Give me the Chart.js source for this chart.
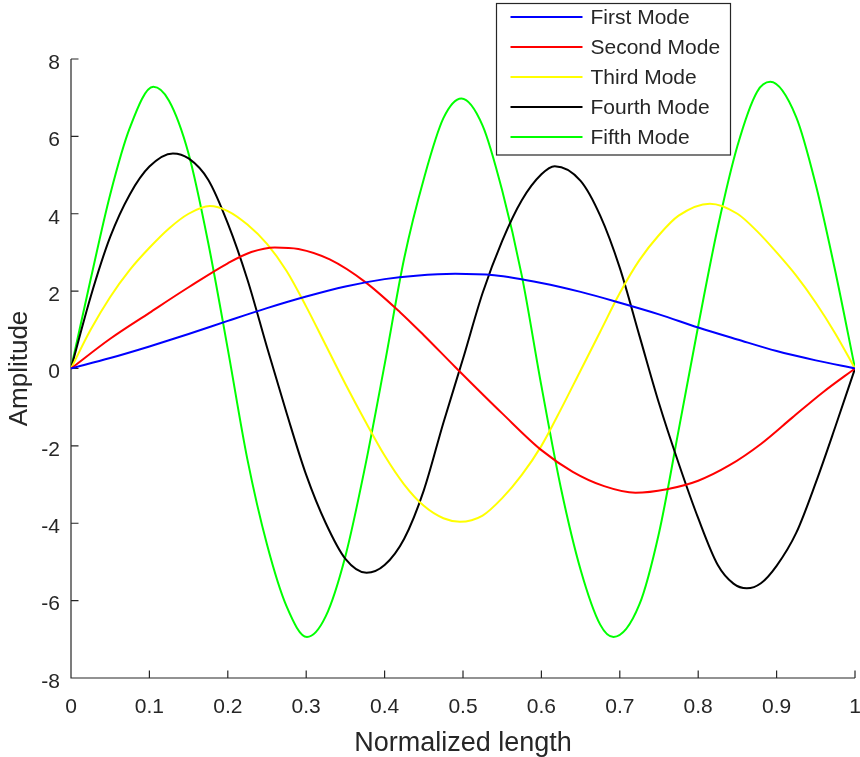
<!DOCTYPE html>
<html lang="en">
<head>
    <meta charset="UTF-8">
    <title>Mode shapes</title>
    <script src="https://cdn.jsdelivr.net/npm/chart.js"></script>
    <style>
        body { margin: 0; background-color: #ffffff; }
        #wrap { width: 860px; height: 757px; }
    </style>
</head>
<body>
    <div id="wrap">
        <canvas id="grafico" width="860" height="757"></canvas>
    </div>

    <script>
        const modeNames = ['First Mode', 'Second Mode', 'Third Mode', 'Fourth Mode', 'Fifth Mode'];
        const modeColors = ['#0000ff', '#ff0000', '#ffff00', '#000000', '#00ff00'];

        const xFirst = [0, 0.05, 0.1, 0.15, 0.2, 0.25, 0.3, 0.35, 0.4, 0.44, 0.49,
                        0.54, 0.6, 0.65, 0.7, 0.75, 0.8, 0.85, 0.9, 0.95, 1];
        const firstMode = [0, 0.27, 0.57, 0.89, 1.23, 1.56, 1.86, 2.12, 2.31, 2.40, 2.45,
                           2.41, 2.21, 1.98, 1.70, 1.40, 1.06, 0.75, 0.45, 0.21, 0];

        const xSecond = [0, 0.05, 0.1, 0.15, 0.2, 0.23, 0.26, 0.29, 0.33, 0.375, 0.42, 0.45,
                         0.49, 0.55, 0.6, 0.64, 0.68, 0.72, 0.76, 0.8, 0.84, 0.88, 0.92, 0.96, 1];
        const secondMode = [0, 0.77, 1.44, 2.10, 2.72, 3.01, 3.13, 3.09, 2.82, 2.24, 1.45, 0.86,
                            0.04, -1.16, -2.11, -2.67, -3.04, -3.21, -3.12, -2.90, -2.50, -1.95, -1.27, -0.60, 0];

        const xThird = [0, 0.025, 0.05, 0.075, 0.1, 0.125, 0.15, 0.177, 0.2, 0.225,
                        0.25, 0.275, 0.3, 0.325, 0.35, 0.375, 0.4, 0.425, 0.45, 0.475,
                        0.496, 0.525, 0.55, 0.575, 0.6, 0.625, 0.65, 0.675, 0.7, 0.725,
                        0.75, 0.775, 0.815, 0.85, 0.875, 0.9, 0.925, 0.95, 0.975, 1];
        const thirdMode = [0, 1.00, 1.85, 2.55, 3.12, 3.62, 4.00, 4.20, 4.07, 3.72,
                           3.22, 2.52, 1.60, 0.60, -0.40, -1.35, -2.25, -3.00, -3.55, -3.87,
                           -3.96, -3.80, -3.35, -2.75, -2.00, -1.05, -0.05, 0.95, 1.95, 2.80,
                           3.45, 3.95, 4.26, 4.00, 3.55, 3.00, 2.40, 1.70, 0.90, 0];

        const xFourth = [0, 0.025, 0.05, 0.075, 0.1, 0.13, 0.15, 0.175, 0.2, 0.225,
                         0.25, 0.275, 0.3, 0.325, 0.35, 0.377, 0.4, 0.425, 0.45, 0.475,
                         0.5, 0.525, 0.55, 0.575, 0.6, 0.617, 0.65, 0.675, 0.7, 0.725,
                         0.75, 0.775, 0.8, 0.825, 0.845, 0.862, 0.88, 0.9, 0.925, 0.95, 0.975, 1];
        const fourthMode = [0, 1.85, 3.40, 4.50, 5.22, 5.56, 5.43, 4.88, 3.75, 2.30,
                            0.55, -1.15, -2.75, -4.00, -4.92, -5.28, -5.08, -4.40, -3.15, -1.40,
                            0.25, 1.95, 3.30, 4.35, 5.02, 5.23, 4.85, 3.95, 2.60, 0.85,
                            -0.90, -2.45, -3.87, -5.08, -5.56, -5.68, -5.55, -5.10, -4.25, -2.95, -1.50, 0];

        const xFifth = [0, 0.025, 0.05, 0.075, 0.105, 0.125, 0.15, 0.175, 0.2, 0.225,
                        0.25, 0.275, 0.301, 0.325, 0.35, 0.375, 0.4, 0.425, 0.45, 0.475,
                        0.498, 0.525, 0.55, 0.575, 0.6, 0.625, 0.65, 0.675, 0.692, 0.725,
                        0.75, 0.775, 0.8, 0.825, 0.85, 0.875, 0.892, 0.925, 0.95, 0.975, 1];
        const fifthMode = [0, 2.30, 4.50, 6.22, 7.28, 6.92, 5.55, 3.25, 0.50, -2.35,
                           -4.55, -6.15, -6.94, -6.40, -4.85, -2.55, 0.10, 2.85, 4.90, 6.47,
                           6.98, 6.28, 4.60, 2.40, -0.45, -3.10, -5.20, -6.62, -6.94, -6.10,
                           -4.25, -1.60, 1.10, 3.65, 5.75, 7.15, 7.41, 6.50, 4.75, 2.50, 0];

        const modes = [firstMode, secondMode, thirdMode, fourthMode, fifthMode];
        const modeX = [xFirst, xSecond, xThird, xFourth, xFifth];

        // tick values
        const xTicks = [0, 0.1, 0.2, 0.3, 0.4, 0.5, 0.6, 0.7, 0.8, 0.9, 1];
        const yTicks = [-8, -6, -4, -2, 0, 2, 4, 6, 8];

        const axisColor = '#262626';
        const fontFam = '"Liberation Sans", Arial, sans-serif';

        // MATLAB style axes: left and bottom lines, ticks pointing inwards
        const ejesPlugin = {
            id: 'ejes',
            beforeDatasetsDraw(chart) {
                const ctx = chart.ctx;
                const xs = chart.scales.x, ys = chart.scales.y;
                const x0 = xs.getPixelForValue(xTicks[0]);
                const x1 = xs.getPixelForValue(xTicks[xTicks.length - 1]);
                const y0 = ys.getPixelForValue(yTicks[0]);
                const y1 = ys.getPixelForValue(yTicks[yTicks.length - 1]);
                const len = 7.5;
                ctx.save();
                ctx.strokeStyle = axisColor;
                ctx.lineWidth = 1.2;
                ctx.beginPath();
                ctx.moveTo(x0, y1);
                ctx.lineTo(x0, y0);
                ctx.lineTo(x1, y0);
                xTicks.forEach(v => {
                    const px = xs.getPixelForValue(v);
                    ctx.moveTo(px, y0);
                    ctx.lineTo(px, y0 - len);
                });
                yTicks.forEach(v => {
                    const py = ys.getPixelForValue(v);
                    ctx.moveTo(x0, py);
                    ctx.lineTo(x0 + len, py);
                });
                ctx.stroke();
                ctx.restore();
            }
        };

        // boxed legend in the upper right, as in the figure
        const leyendaPlugin = {
            id: 'leyenda',
            afterDraw(chart) {
                const ctx = chart.ctx;
                const bx = 496.5, by = 3.5, bw = 234, bh = 151.5;
                const rowH = 30;
                ctx.save();
                ctx.fillStyle = '#ffffff';
                ctx.fillRect(bx, by, bw, bh);
                ctx.strokeStyle = axisColor;
                ctx.lineWidth = 1.2;
                ctx.strokeRect(bx, by, bw, bh);
                ctx.font = '21px ' + fontFam;
                ctx.textBaseline = 'middle';
                chart.data.datasets.forEach((ds, i) => {
                    const ry = by + 13.5 + i * rowH;
                    ctx.strokeStyle = ds.borderColor;
                    ctx.lineWidth = 2;
                    ctx.beginPath();
                    ctx.moveTo(bx + 14, ry);
                    ctx.lineTo(bx + 86, ry);
                    ctx.stroke();
                    ctx.fillStyle = axisColor;
                    ctx.fillText(ds.label, bx + 94, ry + 1);
                });
                ctx.restore();
            }
        };

        const datasets = modes.map((vals, i) => ({
            label: modeNames[i],
            data: vals.map((v, j) => ({ x: modeX[i][j], y: v })),
            borderColor: modeColors[i],
            backgroundColor: modeColors[i],
            borderWidth: 2,
            pointRadius: 0,
            cubicInterpolationMode: 'monotone',
            fill: false
        }));

        const ctx = document.getElementById('grafico').getContext('2d');
        new Chart(ctx, {
            type: 'line',
            data: { datasets: datasets },
            options: {
                responsive: false,
                animation: false,
                layout: { padding: { top: 59, right: 5, left: 0, bottom: 0 } },
                plugins: {
                    legend: { display: false },
                    tooltip: { enabled: false }
                },
                scales: {
                    x: {
                        type: 'linear',
                        min: 0,
                        max: 1,
                        afterBuildTicks: s => { s.ticks = xTicks.map(v => ({ value: v })); },
                        afterFit: s => { s.height = 79; s.paddingLeft = 0; s.paddingRight = 0; },
                        grid: { display: false, drawTicks: false },
                        border: { display: false },
                        ticks: {
                            color: axisColor,
                            font: { family: fontFam, size: 21 },
                            padding: 17,
                            maxRotation: 0,
                            callback: v => String(Number(v.toFixed(1)))
                        },
                        title: {
                            display: true,
                            text: 'Normalized length',
                            color: axisColor,
                            font: { family: fontFam, size: 27 },
                            padding: { top: 0, bottom: -3 }
                        }
                    },
                    y: {
                        type: 'linear',
                        min: -8,
                        max: 8,
                        afterBuildTicks: s => { s.ticks = yTicks.map(v => ({ value: v })); },
                        afterFit: s => { s.width = 71; },
                        grid: { display: false, drawTicks: false },
                        border: { display: false },
                        ticks: {
                            color: axisColor,
                            font: { family: fontFam, size: 21 },
                            padding: 11,
                            labelOffset: 4
                        },
                        title: {
                            display: true,
                            text: 'Amplitude',
                            color: axisColor,
                            font: { family: fontFam, size: 26 },
                            padding: { top: 4, bottom: 0 }
                        }
                    }
                }
            },
            plugins: [ejesPlugin, leyendaPlugin]
        });
    </script>
</body>
</html>
